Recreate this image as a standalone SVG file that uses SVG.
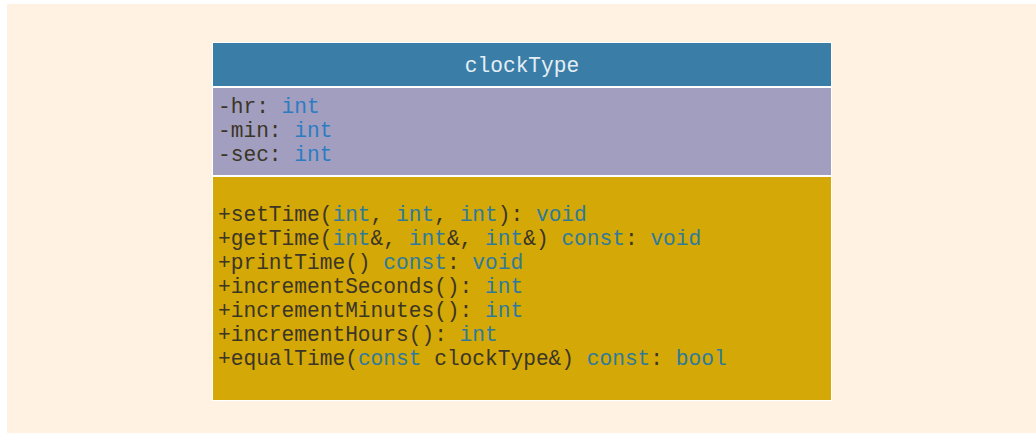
<svg xmlns="http://www.w3.org/2000/svg" width="1036" height="435" viewBox="0 0 1036 435">
<style>
.t{font-family:"Liberation Mono","Courier New",monospace;font-size:21.2px;fill:#3b3526;white-space:pre}
.hd{fill:#e6eef5}
.b1{fill:#2d7cc2}
.b2{fill:#2e7a9c}
</style>
<rect x="0" y="0" width="1036" height="435" fill="#ffffff"/>
<rect x="7" y="4" width="1029" height="429" fill="#fff2e2"/>
<g id="clockType">
<rect x="212" y="42" width="620" height="359" fill="#ffffff"/>
<rect x="213" y="43" width="618" height="43" fill="#3a7ea8"/>
<rect x="213" y="88" width="618" height="87" fill="#a19ebf"/>
<rect x="213" y="177" width="618" height="223" fill="#d4a807"/>
<text class="t hd" x="522" y="72" text-anchor="middle">clockType</text>
<text class="t" x="218" y="113">-hr: <tspan class="b1">int</tspan></text>
<text class="t" x="218" y="137">-min: <tspan class="b1">int</tspan></text>
<text class="t" x="218" y="161">-sec: <tspan class="b1">int</tspan></text>
<text class="t" x="218" y="221">+setTime(<tspan class="b2">int</tspan>, <tspan class="b2">int</tspan>, <tspan class="b2">int</tspan>): <tspan class="b2">void</tspan></text>
<text class="t" x="218" y="245">+getTime(<tspan class="b2">int</tspan>&amp;, <tspan class="b2">int</tspan>&amp;, <tspan class="b2">int</tspan>&amp;) <tspan class="b2">const</tspan>: <tspan class="b2">void</tspan></text>
<text class="t" x="218" y="269">+printTime() <tspan class="b2">const</tspan>: <tspan class="b2">void</tspan></text>
<text class="t" x="218" y="293">+incrementSeconds(): <tspan class="b2">int</tspan></text>
<text class="t" x="218" y="317">+incrementMinutes(): <tspan class="b2">int</tspan></text>
<text class="t" x="218" y="341">+incrementHours(): <tspan class="b2">int</tspan></text>
<text class="t" x="218" y="365">+equalTime(<tspan class="b2">const</tspan> clockType&amp;) <tspan class="b2">const</tspan>: <tspan class="b2">bool</tspan></text>
</g>
<g id="connectors"/>
</svg>
